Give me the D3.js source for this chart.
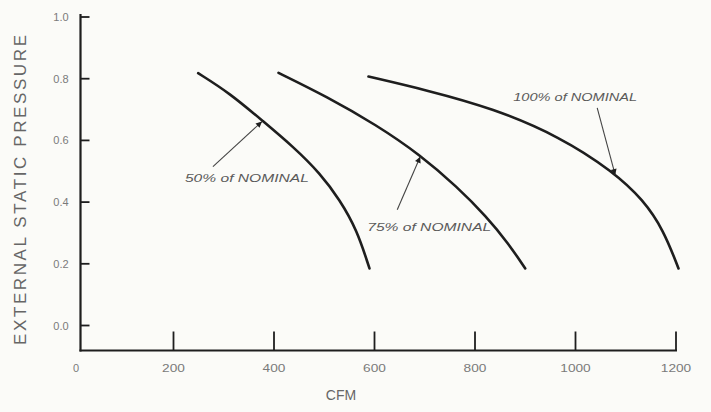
<!DOCTYPE html>
<html>
<head>
<meta charset="utf-8">
<script src="https://cdn.jsdelivr.net/npm/d3@7"></script>
<style>
  html, body { margin: 0; padding: 0; background: #fbfbf8; }
  svg { display: block; }
</style>
</head>
<body>
<svg id="chart" width="711" height="412"></svg>
<script>
// ---- data ----
const xTicks = [0, 200, 400, 600, 800, 1000, 1200];
const xTickLabels = ["0", "200", "400", "600", "800", "1000", "1200"];
const yTicks = [0.0, 0.2, 0.4, 0.6, 0.8, 1.0];
const yTickLabels = ["0.0", "0.2", "0.4", "0.6", "0.8", "1.0"];

const seriesNames = ["50% of NOMINAL", "75% of NOMINAL", "100% of NOMINAL"];
const cfm50 = [249, 312, 379, 438, 492, 531, 565, 590];
const esp50 = [0.818, 0.753, 0.661, 0.580, 0.493, 0.407, 0.310, 0.185];
const cfm75 = [409, 505, 604, 691, 764, 823, 866, 900];
const esp75 = [0.819, 0.742, 0.650, 0.553, 0.450, 0.353, 0.267, 0.185];
const cfm100 = [588, 704, 836, 969, 1075, 1135, 1175, 1205];
const esp100 = [0.807, 0.763, 0.704, 0.612, 0.499, 0.407, 0.310, 0.185];

// annotation arrow targets on each curve
const arrowCfm = [376, 691, 1079];
const arrowEsp = [0.661, 0.547, 0.488];

// ---- layout ----
const svg = d3.select("#chart");
const x = d3.scaleLinear().domain([0, 1200]).range([73, 676]);
const y = d3.scaleLinear().domain([0, 1]).range([325.5, 17]);
const axisY = 350.5;   // pixel position of the x-axis baseline
const axisX = 80.5;    // pixel position of the y-axis line

const ink = "#1e1e1e";
const grey = "#5a5a5a";
const font = "Liberation Sans, Arial, sans-serif";

// y axis line
svg.append("line")
  .attr("x1", axisX).attr("x2", axisX)
  .attr("y1", y(1.0) - 3).attr("y2", axisY + 1)
  .attr("stroke", ink).attr("stroke-width", 2.2);
// x axis line
svg.append("line")
  .attr("x1", axisX - 1).attr("x2", x(1200) + 1)
  .attr("y1", axisY).attr("y2", axisY)
  .attr("stroke", ink).attr("stroke-width", 2.2);

// y ticks (inward, right of axis)
svg.selectAll(".yt").data(yTicks).enter().append("line")
  .attr("x1", axisX).attr("x2", axisX + 9)
  .attr("y1", d => y(d)).attr("y2", d => y(d))
  .attr("stroke", ink).attr("stroke-width", 1.8);
svg.selectAll(".ytl").data(yTicks).enter().append("text")
  .attr("x", 61).attr("y", d => y(d) + 4)
  .attr("text-anchor", "middle")
  .attr("font-family", font)
  .attr("font-size", 11).attr("fill", "#7a7a7a")
  .text((d, i) => yTickLabels[i]);

// x ticks (upward)
svg.selectAll(".xt").data(xTicks.slice(1)).enter().append("line")
  .attr("x1", d => x(d)).attr("x2", d => x(d))
  .attr("y1", axisY).attr("y2", axisY - 19)
  .attr("stroke", ink).attr("stroke-width", 1.8);
svg.selectAll(".xtl").data(xTicks).enter().append("text")
  .attr("x", (d, i) => i === 0 ? 76 : x(d))
  .attr("y", 372)
  .attr("text-anchor", "middle")
  .attr("font-family", font)
  .attr("font-size", 11).attr("fill", "#7a7a7a")
  .each(function(d, i) {
    const t = xTickLabels[i];
    if (t.length > 1) d3.select(this).attr("textLength", t.length * 7.6).attr("lengthAdjust", "spacingAndGlyphs");
  })
  .text((d, i) => xTickLabels[i]);

// axis titles
svg.append("text")
  .attr("transform", "translate(26,190) rotate(-90)")
  .attr("text-anchor", "middle")
  .attr("font-family", font)
  .attr("font-size", 17).attr("fill", "#666")
  .attr("textLength", 310).attr("lengthAdjust", "spacing")
  .text("EXTERNAL STATIC PRESSURE");
svg.append("text")
  .attr("x", 341).attr("y", 400)
  .attr("text-anchor", "middle")
  .attr("font-family", font)
  .attr("font-size", 14).attr("fill", "#666")
  .text("CFM");

// curves
const line = d3.line().x(d => x(d[0])).y(d => y(d[1])).curve(d3.curveBasis);
const series = [
  d3.zip(cfm50, esp50),
  d3.zip(cfm75, esp75),
  d3.zip(cfm100, esp100)
];
svg.selectAll(".curve").data(series).enter().append("path")
  .attr("d", line)
  .attr("fill", "none").attr("stroke", ink).attr("stroke-width", 2.6)
  .attr("stroke-linecap", "round");

// arrow marker
svg.append("defs").append("marker")
  .attr("id", "ah").attr("viewBox", "0 0 10 10")
  .attr("refX", 10).attr("refY", 5)
  .attr("markerWidth", 10).attr("markerHeight", 6)
  .attr("markerUnits", "userSpaceOnUse")
  .attr("orient", "auto")
  .append("path").attr("d", "M0,0 L10,5 L0,10 Z").attr("fill", ink);

// annotation layout: pixel offsets of arrow tail and label start from the arrow tip
const tailDx = [-49, -23, -18];
const tailDy = [45, 53, -67];
const labelDx = [-77, -53, -102];
const labelDy = [60, 74, -74];
arrowCfm.forEach((c, i) => {
  const px = x(c), py = y(arrowEsp[i]);
  svg.append("line")
    .attr("x1", px + tailDx[i]).attr("y1", py + tailDy[i])
    .attr("x2", px).attr("y2", py)
    .attr("stroke", "#444").attr("stroke-width", 1.1)
    .attr("marker-end", "url(#ah)");
  svg.append("text")
    .attr("x", px + labelDx[i]).attr("y", py + labelDy[i])
    .attr("font-family", font)
    .attr("font-style", "italic")
    .attr("font-size", 11).attr("fill", grey)
    .attr("textLength", 124).attr("lengthAdjust", "spacingAndGlyphs")
    .text(seriesNames[i]);
});
</script>
</body>
</html>
